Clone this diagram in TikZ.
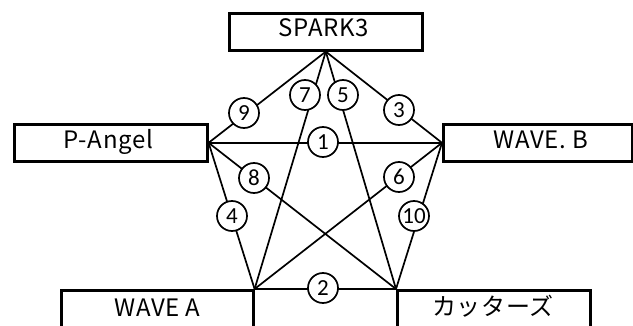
\documentclass[tikz,border=0pt]{standalone}
\usepackage{fontspec}
\newfontfamily\jpfont[LetterSpace=3]{Noto Sans CJK JP}
\newfontfamily\numfont{Carlito}
\begin{document}
\begin{tikzpicture}[x=1pt,y=-1pt,
  box/.style={draw, line width=2.6pt, fill=white, rectangle, inner sep=0pt, minimum width=193pt, anchor=north west},
  lbl/.style={font=\jpfont\fontsize{24}{24}\selectfont, anchor=base, inner sep=0pt},
  edge/.style={line width=1.7pt},
  num/.style={circle, draw, line width=1.7pt, fill=white, minimum size=30pt, inner sep=0pt, font=\numfont\fontsize{23}{23}\selectfont}]
\useasboundingbox (0,0) rectangle (633,326);
\clip (0,0) rectangle (633,326);
% boxes
\node[box, minimum height=37pt] (spark) at (228,12) {};
\node[box, minimum height=37pt] (pangel) at (13,123) {};
\node[box, minimum height=37pt, minimum width=189pt] (waveb) at (442,123) {};
\node[box, minimum height=50pt, minimum width=192pt] (wavea) at (60,289) {};
\node[box, minimum height=50pt] (cutters) at (396,289) {};
% labels
\node[lbl] (sparkt) at (324,37) {SPARK3};
\node[lbl] (pangelt) at (108.5,149) {P-Angel};
\node[lbl] (wavebt) at (541,149) {WAVE. B};
\node[lbl] (waveat) at (157.5,317) {WAVE A};
\node[lbl] (cutterst) at (493,316) {カッターズ};
% edges
\draw[edge] (spark.south) -- (pangel.east);
\draw[edge] (spark.south) -- (waveb.west);
\draw[edge] (spark.south) -- (wavea.north east);
\draw[edge] (spark.south) -- (cutters.north west);
\draw[edge] (pangel.east) -- (waveb.west);
\draw[edge] (pangel.east) -- (wavea.north east);
\draw[edge] (pangel.east) -- (cutters.north west);
\draw[edge] (waveb.west) -- (wavea.north east);
\draw[edge] (waveb.west) -- (cutters.north west);
\draw[edge] (wavea.north east) -- (cutters.north west);
% numbers
\node[num] (n1) at (323,142) {1};
\node[num] (n2) at (323,288) {2};
\node[num] (n3) at (399,110) {3};
\node[num] (n4) at (232,216) {4};
\node[num] (n5) at (343,95) {5};
\node[num] (n6) at (399,177) {6};
\node[num] (n7) at (305,95) {7};
\node[num] (n8) at (254,178) {8};
\node[num] (n9) at (244,113) {9};
\node[num] (n10) at (414,216) {10};
\end{tikzpicture}
\end{document}
